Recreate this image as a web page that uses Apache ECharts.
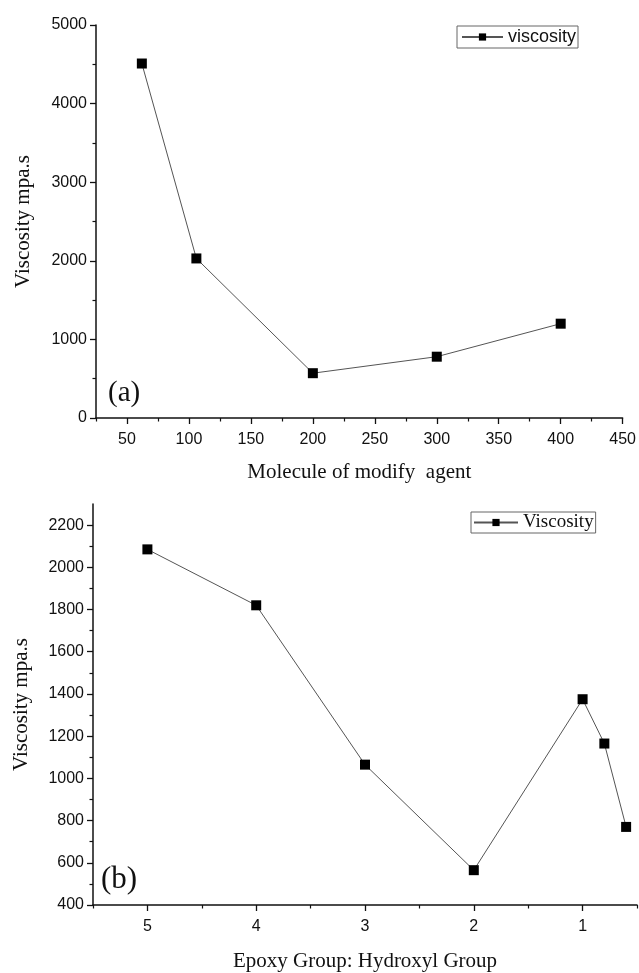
<!DOCTYPE html>
<html><head><meta charset="utf-8">
<script src="https://cdn.jsdelivr.net/npm/echarts@6/dist/echarts.min.js"></script>
<style>html,body{margin:0;padding:0;background:#fff}#c{width:639px;height:973px}</style>
</head><body><div id="c"></div>
<script>
// ---- Data ----
const aMolecule = [62, 106, 200, 300, 400];
const aViscosity = [4510, 2030, 570, 780, 1200];
const aXTicks = [50, 100, 150, 200, 250, 300, 350, 400, 450];
const aXMinor = [25, 75, 125, 175, 225, 275, 325, 375, 425];
const aYTicks = [0, 1000, 2000, 3000, 4000, 5000];
const aYMinor = [500, 1500, 2500, 3500, 4500];

const bRatio = [5, 4, 3, 2, 1, 0.8, 0.6];
const bViscosity = [2085, 1820, 1065, 565, 1375, 1165, 770];
const bXTicks = [1, 2, 3, 4, 5];
const bXMinor = [0.5, 1.5, 2.5, 3.5, 4.5, 5.5];
const bYTicks = [400, 600, 800, 1000, 1200, 1400, 1600, 1800, 2000, 2200];
const bYMinor = [500, 700, 900, 1100, 1300, 1500, 1700, 1900, 2100];

const SANS = 'Liberation Sans, Arial, sans-serif';
const SERIF = 'Liberation Serif, Times New Roman, serif';
const AX = '#111';

function axis(kind, grid, min, max, ticks, opts) {
  return Object.assign({
    type: 'value', gridIndex: grid, min: min, max: max,
    position: kind === 'x' ? 'bottom' : 'left',
    splitLine: { show: false },
    axisLine: { show: true, onZero: false, lineStyle: { color: AX, width: 1.5 } },
    axisTick: { show: true, inside: false, length: 6, customValues: ticks, lineStyle: { color: AX, width: 1.3 } },
    axisLabel: {
      show: true, customValues: ticks, color: '#111', fontFamily: SANS, fontSize: 16,
      margin: kind === 'x' ? 14 : 9,
      formatter: function (v) { return String(v); }
    }
  }, opts || {});
}
function minorAxis(kind, grid, min, max, ticks, opts) {
  return Object.assign({
    type: 'value', gridIndex: grid, min: min, max: max,
    position: kind === 'x' ? 'bottom' : 'left',
    splitLine: { show: false },
    axisLine: { show: false, onZero: false },
    axisTick: { show: true, inside: false, length: 3.5, customValues: ticks, lineStyle: { color: AX, width: 1.2 } },
    axisLabel: { show: false }
  }, opts || {});
}

const nameStyle = { fontFamily: SERIF, fontSize: 21, color: '#111' };

const chart = echarts.init(document.getElementById('c'), null, { renderer: 'canvas' });
chart.setOption({
  backgroundColor: '#fff',
  animation: false,
  grid: [
    { left: 96, top: 25, right: 12, bottom: 555 },
    { left: 93, top: 504, right: 2, bottom: 65 }
  ],
  xAxis: [
    axis('x', 0, 25, 450, aXTicks, { name: 'Molecule of modify  agent', nameLocation: 'middle', nameGap: 44, nameTextStyle: nameStyle }),
    minorAxis('x', 0, 25, 450, aXMinor),
    axis('x', 1, 0.5, 5.5, bXTicks, { inverse: true, name: 'Epoxy Group: Hydroxyl Group', nameLocation: 'middle', nameGap: 46, nameTextStyle: nameStyle }),
    minorAxis('x', 1, 0.5, 5.5, bXMinor, { inverse: true })
  ],
  yAxis: [
    axis('y', 0, 0, 5000, aYTicks, { name: 'Viscosity mpa.s', nameLocation: 'middle', nameGap: 62, nameTextStyle: nameStyle }),
    minorAxis('y', 0, 0, 5000, aYMinor),
    axis('y', 1, 400, 2300, bYTicks, { name: 'Viscosity mpa.s', nameLocation: 'middle', nameGap: 61, nameTextStyle: nameStyle }),
    minorAxis('y', 1, 400, 2300, bYMinor)
  ],
  legend: [
    {
      data: ['viscosity'], left: 457, top: 26, padding: [2, 2, 2, 4],
      itemWidth: 41, itemHeight: 9, borderColor: '#666', borderWidth: 1, borderRadius: 0,
      textStyle: { fontFamily: SANS, fontSize: 18, color: '#111' }
    },
    {
      data: ['Viscosity'], left: 471, top: 512, padding: [1, 2, 1, 2],
      itemWidth: 44, itemHeight: 9, borderColor: '#666', borderWidth: 1, borderRadius: 0,
      textStyle: { fontFamily: SERIF, fontSize: 19, color: '#111' }
    }
  ],
  graphic: [
    { type: 'text', left: 108, top: 379, style: { text: '(a)', font: '29px ' + SERIF, fill: '#111' } },
    { type: 'text', left: 101, top: 864, style: { text: '(b)', font: '31px ' + SERIF, fill: '#111' } }
  ],
  series: [
    {
      name: 'viscosity', type: 'line', xAxisIndex: 0, yAxisIndex: 0,
      data: aMolecule.map((x, i) => [x, aViscosity[i]]),
      symbol: 'rect', symbolSize: 10,
      lineStyle: { color: '#555', width: 1 }, itemStyle: { color: '#000' }
    },
    {
      name: 'Viscosity', type: 'line', xAxisIndex: 2, yAxisIndex: 2,
      data: bRatio.map((x, i) => [x, bViscosity[i]]),
      symbol: 'rect', symbolSize: 10,
      lineStyle: { color: '#555', width: 1 }, itemStyle: { color: '#000' }
    }
  ]
});
</script></body></html>
